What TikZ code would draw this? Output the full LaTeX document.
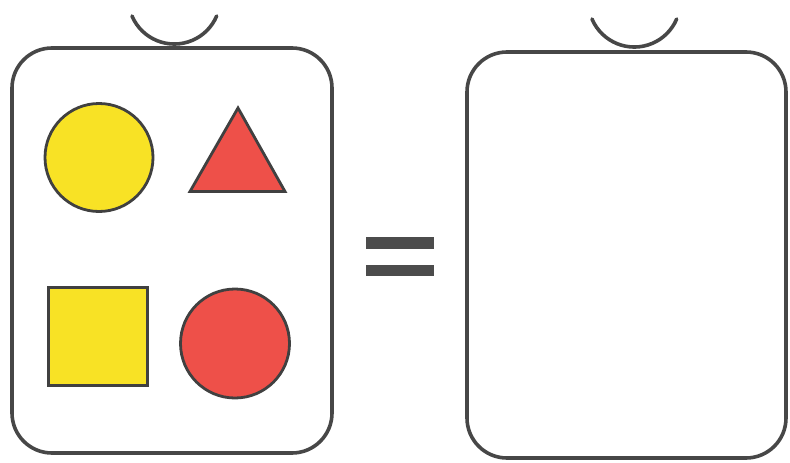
\documentclass[tikz,border=0pt]{standalone}
\begin{document}
\begin{tikzpicture}[x=1pt,y=-1pt,
  outline/.style={draw=black!72,line width=3.6pt},
  shapeline/.style={draw=black!75,line width=2.8pt},
  handle/.style={draw=black!72,line width=3.6pt,line cap=round},
  bar/.style={fill=black!70}]
\definecolor{shyellow}{HTML}{F8E225}
\definecolor{shred}{HTML}{EE5049}
\useasboundingbox[fill=white] (0,0) rectangle (790,463);
% handles
\draw[handle] (132,16) arc[start angle=157,end angle=23,radius=46];
\draw[handle] (592,19) arc[start angle=157,end angle=23,radius=46];
% boxes
\draw[outline,rounded corners=40pt] (12,48) rectangle (332,453);
\draw[outline,rounded corners=40pt] (467,52) rectangle (786,458);
% shapes
\filldraw[shapeline,fill=shyellow] (99,157.5) circle[radius=54];
\filldraw[shapeline,fill=shred,line join=miter] (190,191.5) -- (238,108) -- (285,191.5) -- cycle;
\filldraw[shapeline,fill=shyellow] (48.5,287.5) rectangle (147.5,385.5);
\filldraw[shapeline,fill=shred] (235,343.5) circle[radius=54.5];
% equals sign
\fill[bar] (366,237) rectangle (434,249);
\fill[bar] (366,265) rectangle (434,276);
\end{tikzpicture}
\end{document}
